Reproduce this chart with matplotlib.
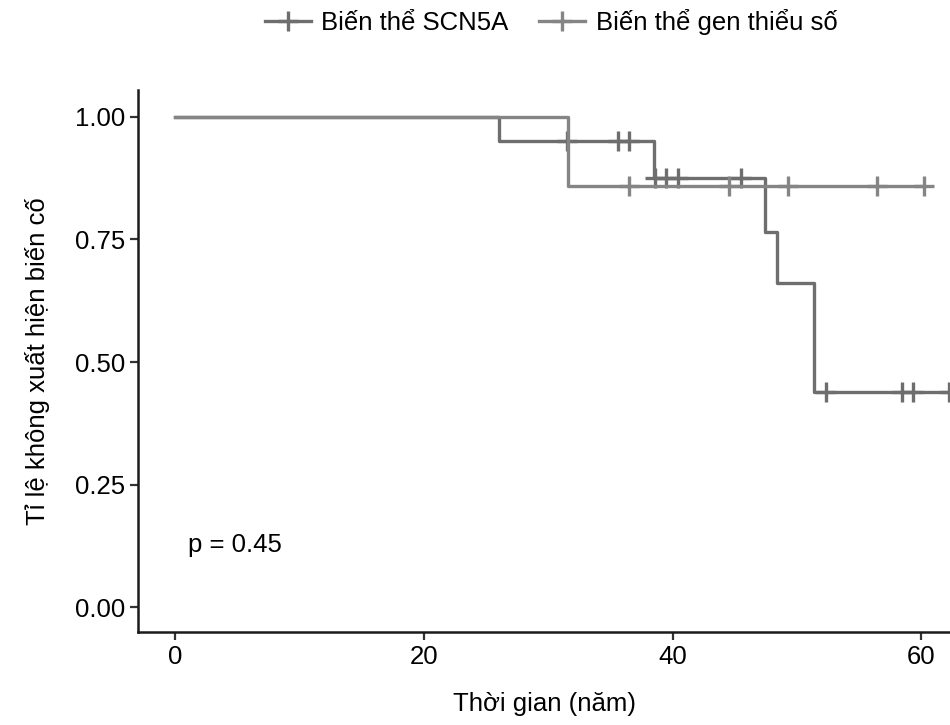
import matplotlib
matplotlib.use("Agg")
import matplotlib.pyplot as plt

plt.rcParams["font.family"] = ["Liberation Sans", "DejaVu Sans"]

# ── Data ─────────────────────────────────────────────────────
labels = ["Biến thể SCN5A", "Biến thể gen thiểu số"]
colors = ["#6e6e6e", "#858585"]

scn5a_t = [0, 26.0, 38.5, 47.4, 48.4, 51.4, 62.3]
scn5a_s = [1.0, 0.951, 0.875, 0.765, 0.661, 0.439, 0.439]
scn5a_cens_t = [31.5, 35.6, 36.5, 38.6, 39.5, 40.4, 45.5, 52.3, 58.4, 59.3, 62.2]
scn5a_cens_s = [0.951, 0.951, 0.951, 0.875, 0.875, 0.875, 0.875,
                0.439, 0.439, 0.439, 0.439]

minor_t = [0, 31.6, 60.2]
minor_s = [1.0, 0.859, 0.859]
minor_cens_t = [36.5, 44.5, 49.3, 56.4, 60.2]
minor_cens_s = [0.859, 0.859, 0.859, 0.859, 0.859]

x_ticks = [0, 20, 40, 60]
y_ticks = [0.00, 0.25, 0.50, 0.75, 1.00]
p_text = "p = 0.45"

FS = 18.5

fig = plt.figure(figsize=(9.5, 7.25), dpi=100)
ax = fig.add_axes([0.1453, 0.128, 0.8547, 0.748])

series = [
    (scn5a_t, scn5a_s, scn5a_cens_t, scn5a_cens_s),
    (minor_t, minor_s, minor_cens_t, minor_cens_s),
]
handles = []
for (t, s, ct, cs), lab, col in zip(series, labels, colors):
    ax.step(t, s, where="post", color=col, lw=2.4, solid_joinstyle="round")
    ax.plot(ct, cs, ls="none", marker="+", ms=15, mew=2.4, color=col)
    h, = ax.plot([], [], color=col, lw=2.4, marker="+", ms=15, mew=2.4)
    handles.append(h)

ax.text(1.0, 0.127, p_text, fontsize=FS, va="center", ha="left")

ax.set_xlim(-3.0, 62.3)
ax.set_ylim(-0.051, 1.055)
ax.set_xticks(x_ticks)
ax.set_yticks(y_ticks)
ax.set_yticklabels([f"{v:.2f}" for v in y_ticks])
ax.tick_params(labelsize=FS, width=1.6, length=6, color="#333333")
ax.set_xlabel("Thời gian (năm)", fontsize=FS, labelpad=16)
ax.set_ylabel("Tỉ lệ không xuất hiện biến cố", fontsize=FS, labelpad=18)

for side in ("top", "right"):
    ax.spines[side].set_visible(False)
for side in ("left", "bottom"):
    ax.spines[side].set_linewidth(1.8)
    ax.spines[side].set_color("#1a1a1a")

fig.legend(handles, labels, ncol=2, loc="center",
           bbox_to_anchor=(0.58, 0.97), frameon=False, fontsize=FS,
           handlelength=1.8, handletextpad=0.4, columnspacing=1.2)

plt.savefig("out.png", dpi=100)
plt.close()
